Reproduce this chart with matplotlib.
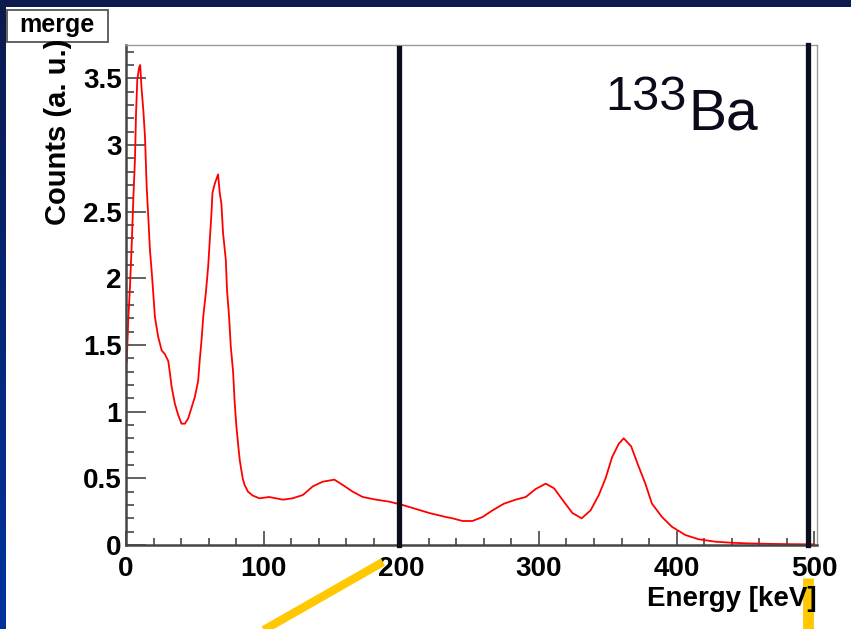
import numpy as np
import matplotlib.pyplot as plt
from matplotlib.lines import Line2D
from matplotlib.patches import Rectangle

# ==============================
# Data
# ==============================

energy = [0.5, 1.7, 2.9, 4.1, 5.3, 6.5, 7.3, 8.2, 9.5, 10.3,
          11.4, 12.6, 13.8, 15.0, 16.2, 17.4, 18.6, 19.8, 21.0, 23.4,
          25.9, 28.3, 30.7, 31.9, 33.1, 35.5, 37.9, 40.3, 42.8, 45.2,
          47.6, 50.0, 52.4, 53.6, 54.9, 56.1, 58.0, 59.7, 60.9, 62.1,
          62.8, 64.5, 66.9, 68.1, 69.3, 70.5, 72.5, 73.4, 74.9, 76.1,
          77.8, 79.0, 80.2, 81.4, 82.6, 83.8, 85.0, 86.2, 88.6, 92.2,
          97.0, 104.0, 114.0, 121.0, 128.5, 135.7, 143.0, 151.4, 157.5, 164.7,
          172.0, 181.7, 191.3, 201.0, 210.7, 220.3, 232.4, 237.2, 244.5, 251.7,
          259.0, 266.3, 274.6, 283.1, 290.4, 297.6, 304.9, 311.0, 317.0, 324.3,
          331.0, 337.5, 343.5, 348.4, 353.2, 358.0, 361.6, 367.0, 372.0, 377.3,
          382.1, 389.4, 396.6, 406.3, 416.0, 428.0, 440.0, 452.0, 470.0, 485.0,
          500.0]
counts = [1.37, 1.70, 1.94, 2.24, 2.59, 2.89, 3.24, 3.49, 3.58, 3.60,
          3.41, 3.26, 3.06, 2.69, 2.46, 2.21, 2.06, 1.89, 1.71, 1.56,
          1.46, 1.43, 1.38, 1.29, 1.19, 1.06, 0.975, 0.91, 0.91, 0.95,
          1.03, 1.11, 1.23, 1.39, 1.54, 1.71, 1.89, 2.09, 2.29, 2.49,
          2.64, 2.71, 2.78, 2.64, 2.56, 2.34, 2.14, 1.91, 1.71, 1.49,
          1.30, 1.06, 0.89, 0.76, 0.64, 0.56, 0.49, 0.45, 0.40, 0.37,
          0.35, 0.36, 0.34, 0.35, 0.375, 0.44, 0.475, 0.49, 0.45, 0.40,
          0.36, 0.34, 0.325, 0.30, 0.27, 0.24, 0.21, 0.20, 0.18, 0.18,
          0.21, 0.26, 0.31, 0.34, 0.36, 0.42, 0.46, 0.425, 0.34, 0.24,
          0.20, 0.26, 0.375, 0.50, 0.66, 0.76, 0.80, 0.74, 0.60, 0.46,
          0.31, 0.21, 0.137, 0.075, 0.043, 0.025, 0.017, 0.012, 0.008, 0.006,
          0.005]

xticks = [0, 100, 200, 300, 400, 500]
xtick_labels = ["0", "100", "200", "300", "400", "500"]
yticks = [0, 0.5, 1, 1.5, 2, 2.5, 3, 3.5]
ytick_labels = ["0", "0.5", "1", "1.5", "2", "2.5", "3", "3.5"]

# marker lines drawn on the slide (keV)
cut_lines = [198.3, 495.5]

W, H = 851, 629
plt.rcParams['font.family'] = ['Liberation Sans', 'DejaVu Sans']

fig = plt.figure(figsize=(W / 100, H / 100), dpi=100)
fig.patch.set_facecolor("white")

# slide background: dark bar on top, blue strip on the left
grad = fig.add_axes([0, 0, 6 / W, 1])
grad.imshow(np.linspace(0, 1, 256).reshape(-1, 1), aspect="auto",
            cmap=plt.matplotlib.colors.LinearSegmentedColormap.from_list(
                "slide", ["#0c1a4c", "#0033a0"]), extent=[0, 1, 0, 1])
grad.set_axis_off()
fig.add_artist(Rectangle((0, 1 - 7 / H), 1, 7 / H, transform=fig.transFigure,
                         facecolor="#0c1a4c", edgecolor="none"))

# ==============================
# Histogram axes
# ==============================

ax = fig.add_axes([126 / W, 1 - 545 / H, (817 - 126) / W, (545 - 45) / H])
ax.plot(energy, counts, color="#ff0000", lw=1.3, zorder=2)

for i, e in enumerate(cut_lines):
    ax.axvline(e, ymin=0, ymax=0.994 if i == 0 else 1.0, color="#0b0e1c",
               lw=3.8, zorder=5, clip_on=False)

ax.set_xlim(0, 502)
ax.set_ylim(0, 3.75)

ax.set_xticks(xticks)
ax.set_xticklabels(xtick_labels, fontsize=20, fontweight="bold")
ax.set_yticks(yticks)
ax.set_yticklabels(ytick_labels, fontsize=20, fontweight="bold")
ax.set_xticks(np.arange(0, 502, 20), minor=True)
ax.set_yticks(np.arange(0, 3.75, 0.1), minor=True)

ax.tick_params(axis="y", which="major", direction="in", length=14.4, width=1.3,
               color="#555555", pad=3)
ax.tick_params(axis="y", which="minor", direction="in", length=5.8, width=1.3,
               color="#555555")
ax.tick_params(axis="x", which="major", direction="in", length=10, width=1.3,
               color="#555555", pad=8)
ax.tick_params(axis="x", which="minor", direction="in", length=5, width=1.3,
               color="#555555")
ax.tick_params(top=False, right=False, which="both")

ax.spines["left"].set_color("#444444")
ax.spines["left"].set_linewidth(1.8)
ax.spines["bottom"].set_color("#444444")
ax.spines["bottom"].set_linewidth(1.8)
ax.spines["top"].set_color("#9a9a9a")
ax.spines["top"].set_linewidth(1.0)
ax.spines["right"].set_color("#9a9a9a")
ax.spines["right"].set_linewidth(1.0)

# axis titles
fig.text(58 / W, 1 - 132 / H, "Counts (a. u.)", rotation=90, ha="center",
         va="center", fontsize=21, fontweight="bold")
fig.text(817 / W, 1 - 606 / H, "Energy [keV]", ha="right", va="baseline",
         fontsize=20, fontweight="bold")

# "merge" title box
fig.add_artist(Rectangle((7 / W, 1 - 42 / H), 101 / W, 32 / H,
                         transform=fig.transFigure, facecolor="white",
                         edgecolor="#555555", lw=1.3))
fig.text(57 / W, 1 - 25 / H, "merge", ha="center", va="center",
         fontsize=18, fontweight="bold")

# isotope label
fig.text(605 / W, 1 - 110 / H, "133", ha="left", va="baseline", fontsize=35,
         color="#0a0a1a")
fig.text(688 / W, 1 - 129 / H, "Ba", ha="left", va="baseline", fontsize=41,
         color="#0a0a1a")

# yellow slide arrows
fig.add_artist(Line2D([383 / W, 255 / W], [1 - 562 / H, 1 - 635 / H],
                      transform=fig.transFigure, color="#ffc800", lw=6,
                      solid_capstyle="butt"))
fig.add_artist(Line2D([807.5 / W, 807.5 / W], [1 - 578 / H, 1 - 640 / H],
                      transform=fig.transFigure, color="#ffc800", lw=7.8,
                      solid_capstyle="butt"))

fig.savefig("out.png", dpi=100)
